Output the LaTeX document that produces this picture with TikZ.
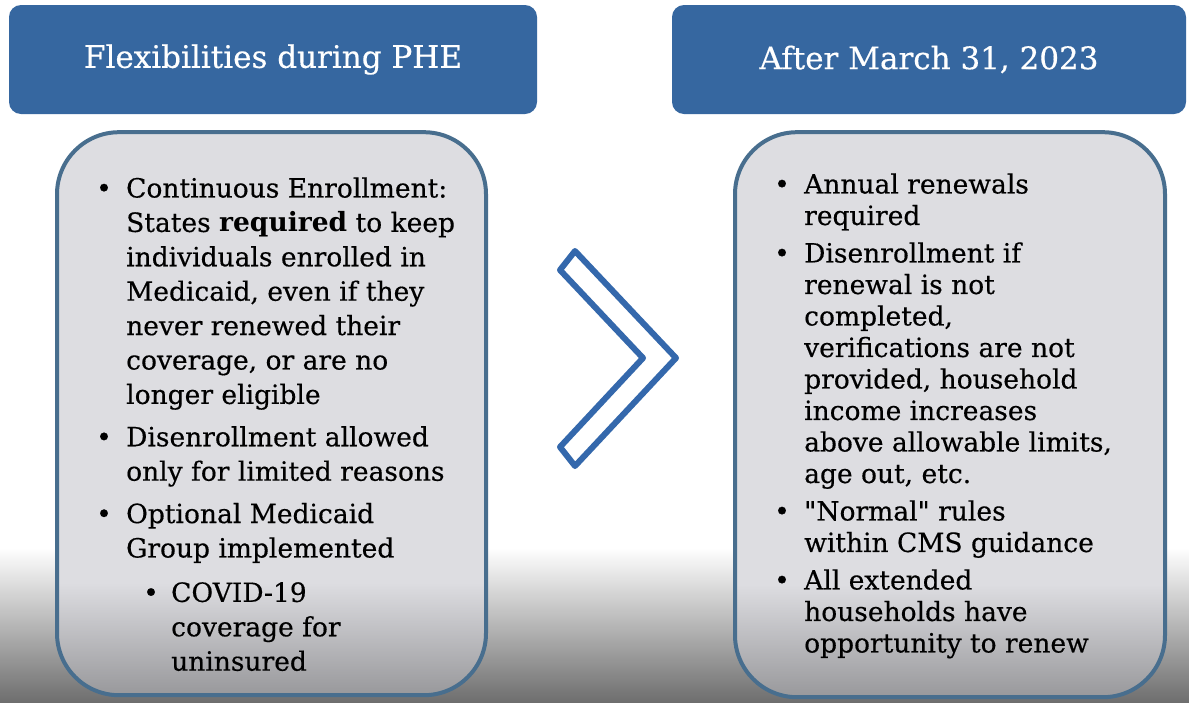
\documentclass[tikz,border=0pt]{standalone}
\usepackage{fontspec}
\setmainfont{DejaVu Serif}[UprightFeatures={FakeBold=0.4}]
\usetikzlibrary{positioning}
\definecolor{hb}{RGB}{54,103,160}
\definecolor{rim}{RGB}{72,110,142}
\definecolor{pg}{RGB}{221,221,225}
\definecolor{pgdark}{RGB}{152,152,155}
\definecolor{bgdark}{RGB}{110,110,110}
\definecolor{cv}{RGB}{52,104,172}
\pgfdeclareverticalshading{pagefade}{100bp}{color(0bp)=(bgdark); color(25bp)=(bgdark); color(36bp)=(white); color(100bp)=(white)}
\pgfdeclareverticalshading{panelfade}{100bp}{color(0bp)=(pgdark); color(25bp)=(pgdark); color(35bp)=(pg); color(100bp)=(pg)}

\begin{document}
\begin{tikzpicture}[
    x=1pt, y=-1pt,
    head/.style={
        fill=hb, rounded corners=12pt, text=white,
        font=\fontsize{31}{36}\selectfont, inner sep=0pt
    },
    panel/.style={
        draw=rim, line width=4pt, rounded corners=62pt,
        shade, shading=panelfade, inner sep=0pt
    },
    items/.style={
        anchor=north west, inner sep=0pt, align=left
    },
    chevron/.style={
        draw=cv, line width=6pt, line join=round
    }
]
    % page, darker towards the bottom
    \shade[shading=pagefade] (0,0) rectangle (1189,702);

    \node[head, minimum width=528pt, minimum height=109pt] (lhead) at (273,59.5)
        {Flexibilities during PHE};
    \node[head, minimum width=514pt, minimum height=109pt] (rhead) at (929,59.5)
        {After March 31, 2023};

    \node[panel, minimum width=429pt, minimum height=563pt,
        below=16pt of lhead, xshift=-1.5pt] (lpanel) {};
    \node[panel, minimum width=430pt, minimum height=565pt,
        below=16pt of rhead, xshift=21pt] (rpanel) {};

    \draw[chevron] (575,251) -- (676,358) -- (575,466) -- (560,447)
        -- (643,358) -- (560,270) -- cycle;

    \node[items, font=\fontsize{26.5}{34.4}\selectfont] (litems)
        at ([shift={(41,43)}]lpanel.north west) {%
        \begin{tabular}{@{}p{30pt}@{}l@{}}
            \textbullet & Continuous Enrollment:\\
             & States \textbf{required} to keep\\
             & individuals enrolled in\\
             & Medicaid, even if they\\
             & never renewed their\\
             & coverage, or are no\\
             & longer eligible\\[8pt]
            \textbullet & Disenrollment allowed\\
             & only for limited reasons\\[8pt]
            \textbullet & Optional Medicaid\\
             & Group implemented\\[10pt]
             & \hspace{17pt}\makebox[28pt][l]{\textbullet}COVID-19\\
             & \hspace{45pt}coverage for\\
             & \hspace{45pt}uninsured
        \end{tabular}};

    \node[items, font=\fontsize{26.5}{31.5}\selectfont] (ritems)
        at ([shift={(41,41)}]rpanel.north west) {%
        \begin{tabular}{@{}p{30pt}@{}l@{}}
            \textbullet & Annual renewals\\
             & required\\[6pt]
            \textbullet & Disenrollment if\\
             & renewal is not\\
             & completed,\\
             & verifications are not\\
             & provided, household\\
             & income increases\\
             & above allowable limits,\\
             & age out, etc.\\[6pt]
            \textbullet & \textquotedbl Normal\textquotedbl{} rules\\
             & within CMS guidance\\[6pt]
            \textbullet & All extended\\
             & households have\\
             & opportunity to renew
        \end{tabular}};
\end{tikzpicture}
\end{document}
